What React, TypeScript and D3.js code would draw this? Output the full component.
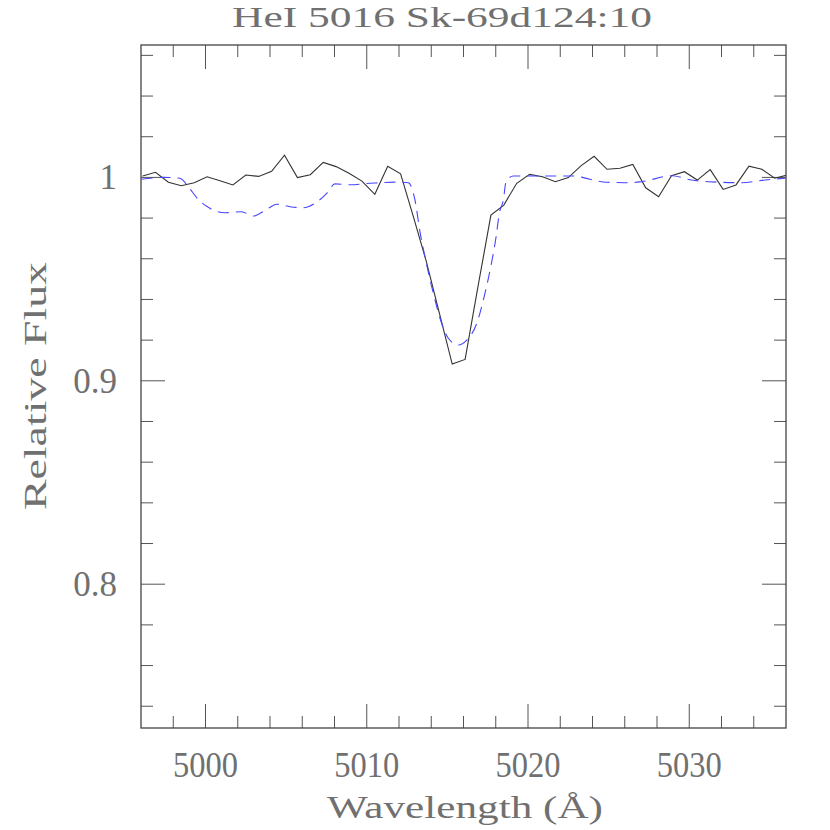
import * as d3 from 'd3';

/* ═══ data ═══ */
const obsWave = [
  4996.1, 4996.9, 4997.7, 4998.5, 4999.3, 5000.1, 5000.9, 5001.7, 5002.5, 5003.3,
  5004.1, 5004.9, 5005.7, 5006.5, 5007.3, 5008.1, 5008.9, 5009.7, 5010.5, 5011.3,
  5012.1, 5012.9, 5013.7, 5014.5, 5015.3, 5016.1, 5016.9, 5017.7, 5018.5, 5019.3,
  5020.1, 5020.9, 5021.7, 5022.5, 5023.3, 5024.1, 5024.9, 5025.7, 5026.5, 5027.3,
  5028.1, 5028.9, 5029.7, 5030.5, 5031.3, 5032.1, 5032.9, 5033.7, 5034.5, 5035.3,
  5036.1,
];
const obsFlux = [
  1.0007, 1.0025, 0.9976, 0.9959, 0.9974, 1.0003, 0.9984, 0.9963, 1.0012, 1.0005,
  1.0030, 1.0109, 0.9999, 1.0013, 1.0074, 1.0053, 1.0020, 0.9982, 0.9917, 1.0055,
  1.0018, 0.9805, 0.9585, 0.9334, 0.9082, 0.9105, 0.9464, 0.9815, 0.9864, 0.9971,
  1.0015, 1.0003, 0.9979, 0.9999, 1.0058, 1.0104, 1.0040, 1.0045, 1.0064, 0.9949,
  0.9905, 1.0008, 1.0028, 0.9987, 1.0038, 0.9941, 0.9963, 1.0055, 1.0040, 0.9996,
  1.0012,
];

const modelWave = [
  4996.04, 4997.38, 4998.42, 4998.93, 4999.55, 5000.27, 5001.21, 5002.24, 5002.96, 5003.80,
  5004.42, 5005.24, 5006.07, 5006.79, 5007.52, 5008.03, 5008.96, 5010.20, 5011.86, 5012.58,
  5012.99, 5013.30, 5013.61, 5014.13, 5014.65, 5015.06, 5015.68, 5016.20, 5016.82, 5017.33,
  5017.75, 5018.02, 5018.22, 5018.47, 5018.64, 5019.09, 5022.81, 5023.84, 5024.88, 5026.33,
  5027.05, 5028.91, 5030.15, 5031.18, 5033.25, 5034.70, 5035.94,
];
const modelFlux = [
  0.9991, 1.0000, 0.9996, 0.9954, 0.9892, 0.9848, 0.9826, 0.9831, 0.9810, 0.9843,
  0.9868, 0.9856, 0.9851, 0.9873, 0.9922, 0.9968, 0.9964, 0.9971, 0.9977, 0.9974,
  0.9889, 0.9733, 0.9610, 0.9430, 0.9282, 0.9209, 0.9176, 0.9200, 0.9282, 0.9430,
  0.9585, 0.9708, 0.9823, 0.9889, 0.9979, 1.0007, 1.0007, 0.9991, 0.9976, 0.9974,
  0.9979, 1.0008, 0.9987, 0.9979, 0.9974, 0.9987, 0.9996,
];

const xMajor = [5000, 5010, 5020, 5030];
const xMinor = [4998, 5002, 5004, 5006, 5008, 5012, 5014, 5016, 5018, 5022, 5024, 5026, 5028, 5032, 5034];
const yMajor = [0.8, 0.9, 1];
const yMinor = [0.74, 0.76, 0.78, 0.82, 0.84, 0.86, 0.88, 0.92, 0.94, 0.96, 0.98, 1.02, 1.04, 1.06];

const W = 830, H = 830;
const L = 141, R = 786, T = 45, B = 728;
const TXT = '#707070';
const FONT = '"Liberation Serif", "DejaVu Serif", serif';

export default function App() {
  const x = d3.scaleLinear().domain([4996, 5036]).range([L, R]);
  const y = d3.scaleLinear().domain([0.7293, 1.0651]).range([B, T]);

  const obs = obsWave.map((w, i) => [w, obsFlux[i]] as [number, number]);
  const model = modelWave.map((w, i) => [w, modelFlux[i]] as [number, number]);
  const obsLine = d3.line<[number, number]>().x(d => x(d[0])).y(d => y(d[1]));
  const modelLine = d3.line<[number, number]>().x(d => x(d[0])).y(d => y(d[1])).curve(d3.curveMonotoneX);

  const tk = '#555';
  return (
    <svg width={W} height={H} style={{ position: 'absolute', left: 0, top: 0, background: '#fff' }}>
      <defs>
        <clipPath id="plot">
          <rect x={L} y={T} width={R - L} height={B - T} />
        </clipPath>
      </defs>

      {/* ticks, all four sides, inward */}
      <g stroke={tk} strokeWidth={1}>
        {xMajor.map(v => (
          <g key={'xM' + v}>
            <line x1={x(v)} x2={x(v)} y1={B} y2={B - 24} />
            <line x1={x(v)} x2={x(v)} y1={T} y2={T + 24} />
          </g>
        ))}
        {xMinor.map(v => (
          <g key={'xm' + v}>
            <line x1={x(v)} x2={x(v)} y1={B} y2={B - 12} />
            <line x1={x(v)} x2={x(v)} y1={T} y2={T + 12} />
          </g>
        ))}
        {yMajor.map(v => (
          <g key={'yM' + v}>
            <line x1={L} x2={L + 24} y1={y(v)} y2={y(v)} />
            <line x1={R} x2={R - 24} y1={y(v)} y2={y(v)} />
          </g>
        ))}
        {yMinor.map(v => (
          <g key={'ym' + v}>
            <line x1={L} x2={L + 12} y1={y(v)} y2={y(v)} />
            <line x1={R} x2={R - 12} y1={y(v)} y2={y(v)} />
          </g>
        ))}
      </g>

      {/* spectra */}
      <g clipPath="url(#plot)" fill="none">
        <path d={obsLine(obs) || ''} stroke="#333" strokeWidth={1.1} />
        <path d={modelLine(model) || ''} stroke="#4646ff" strokeWidth={1.1} strokeDasharray="11,7" />
      </g>

      {/* frame */}
      <rect x={L} y={T} width={R - L} height={B - T} fill="none" stroke="#444" strokeWidth={1.3} />

      {/* tick labels */}
      <g fill={TXT} fontFamily={FONT} fontSize={35}>
        {xMajor.map(v => (
          <text key={'xl' + v} x={x(v)} y={777} textAnchor="middle" textLength={65} lengthAdjust="spacingAndGlyphs">{v}</text>
        ))}
        {yMajor.map(v => (
          <text key={'yl' + v} x={117} y={y(v) + 12} textAnchor="end">{d3.format('~g')(v)}</text>
        ))}
      </g>

      {/* titles */}
      <g fill={TXT} fontFamily={FONT} fontSize={32}>
        <text x={442} y={27} fontSize={30} textAnchor="middle" textLength={420} lengthAdjust="spacingAndGlyphs">HeI 5016 Sk-69d124:10</text>
        <text x={465} y={818} textAnchor="middle" textLength={276} lengthAdjust="spacingAndGlyphs">Wavelength (Å)</text>
        <text transform={`translate(46,${386}) rotate(-90)`} textAnchor="middle" textLength={248} lengthAdjust="spacingAndGlyphs">Relative Flux</text>
      </g>
    </svg>
  );
}
